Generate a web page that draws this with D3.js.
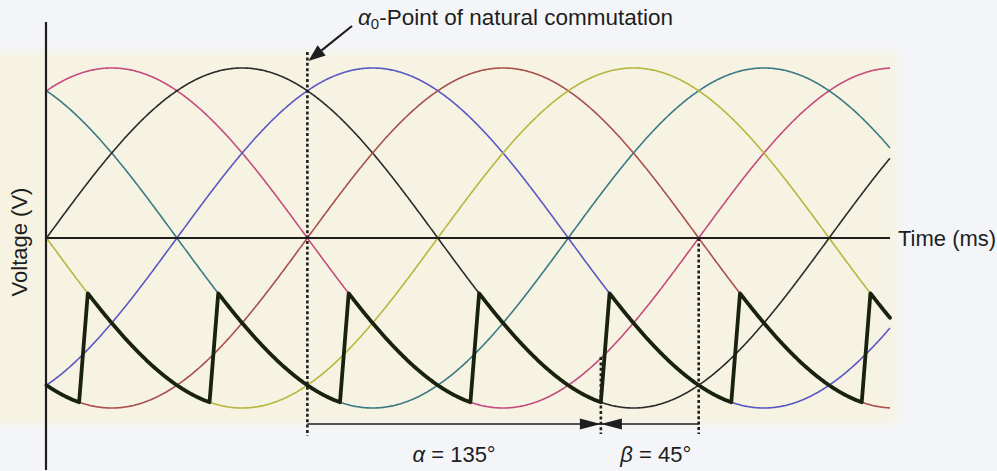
<!DOCTYPE html>
<html>
<head>
<meta charset="utf-8">
<script src="https://cdn.jsdelivr.net/npm/d3@7/dist/d3.min.js"></script>
<style>
  html, body { margin: 0; padding: 0; background: #f3f5f8; }
  svg { display: block; font-family: "Liberation Sans", Arial, sans-serif; }
</style>
</head>
<body>
<svg id="chart" width="997" height="471"></svg>
<script>
// Six phase voltages of a 6-pulse bridge, normalised amplitude, phase lead in degrees
const phaseShiftDeg = [60, 120, 0, -60, -120, 180];
const amplitude = 1;

// Angle axis (electrical degrees shown along the time axis)
const angleDomain = [0, 388];
const voltageDomain = [-1, 1];

// Firing / commutation angles (degrees)
const alpha0Deg = 120;     // natural commutation point
const alphaDeg = 135;      // firing angle
const betaDeg = 45;        // advance angle, alpha + beta = 180
const overlapDeg = 4;      // commutation overlap of the output voltage
const pulseSpacingDeg = 60;

// Text
const axisLabels = { y: "Voltage (V)", x: "Time (ms)" };
const alpha0Label = ["α", "0", "-Point of natural commutation"];

// Styles
const phaseColors = ["#c64b7e", "#3b7a84", "#2b2b2b", "#5a58c4", "#a8504c", "#b8b63e"];
const ink = "#1e1e1e";

const svg = d3.select("#chart");

const x = d3.scaleLinear().domain(angleDomain).range([46.5, 890]);
const y = d3.scaleLinear().domain(voltageDomain).range([408, 68]);
const rad = d => d * Math.PI / 180;

// soft cream plotting paper
const defs = svg.append("defs");
defs.append("filter").attr("id", "soft")
  .attr("x", "-10%").attr("y", "-10%").attr("width", "120%").attr("height", "120%")
  .append("feGaussianBlur").attr("stdDeviation", 5);
svg.append("rect")
  .attr("x", -20).attr("y", 52).attr("width", 917).attr("height", 372)
  .attr("fill", "#f6f3e2").attr("filter", "url(#soft)");

const line = d3.line().x(d => x(d.t)).y(d => y(d.v));
const step = 0.5;
const thetas = d3.range(angleDomain[0], angleDomain[1] + step / 2, step);

// thin phase voltages
const phases = phaseShiftDeg.map((s, i) => ({
  color: phaseColors[i],
  pts: thetas.map(t => ({ t, v: amplitude * Math.sin(rad(t + s)) }))
}));
svg.append("g").selectAll("path").data(phases).join("path")
  .attr("d", d => line(d.pts))
  .attr("fill", "none")
  .attr("stroke", d => d.color)
  .attr("stroke-width", 1.6)
  .attr("stroke-linejoin", "round");

// output (rail) voltage: each thyristor fired alpha after its natural commutation point
function phaseLag(t) {
  const k = Math.floor((t - alpha0Deg - alphaDeg) / pulseSpacingDeg);
  return { lag: alpha0Deg - pulseSpacingDeg + pulseSpacingDeg * k,
           fire: alpha0Deg + alphaDeg + pulseSpacingDeg * k };
}
function railVoltage(t) {
  const { lag, fire } = phaseLag(t);
  const vNew = tt => amplitude * Math.sin(rad(tt - lag));
  if (t < fire + overlapDeg) {
    const vOld = amplitude * Math.sin(rad(fire - lag + pulseSpacingDeg));
    const vEnd = vNew(fire + overlapDeg);
    return vOld + (vEnd - vOld) * (t - fire) / overlapDeg;
  }
  return vNew(t);
}
const breaks = [];
for (let f = alpha0Deg + alphaDeg - 10 * pulseSpacingDeg; f <= angleDomain[1]; f += pulseSpacingDeg) {
  if (f >= angleDomain[0]) breaks.push(f, f + overlapDeg);
}
const railT = Array.from(new Set(thetas.concat(breaks).filter(t => t <= angleDomain[1])))
  .sort((a, b) => a - b);
svg.append("path")
  .attr("d", line(railT.map(t => ({ t, v: railVoltage(t) }))))
  .attr("fill", "none")
  .attr("stroke", "#18220f")
  .attr("stroke-width", 3.8)
  .attr("stroke-linejoin", "round")
  .attr("stroke-linecap", "round");

// axes
svg.append("line")
  .attr("x1", x(angleDomain[0]) - 0.5).attr("x2", x(angleDomain[0]) - 0.5)
  .attr("y1", 22).attr("y2", 470)
  .attr("stroke", ink).attr("stroke-width", 2.2);
svg.append("line")
  .attr("x1", x(angleDomain[0]) - 0.5).attr("x2", x(angleDomain[1]))
  .attr("y1", y(0)).attr("y2", y(0))
  .attr("stroke", ink).attr("stroke-width", 1.8);

svg.append("text")
  .attr("transform", `translate(27,${y(0) + 4}) rotate(-90)`)
  .attr("text-anchor", "middle")
  .attr("font-size", 22).attr("fill", ink)
  .text(axisLabels.y);
svg.append("text")
  .attr("x", x(angleDomain[1]) + 8).attr("y", y(0) + 8)
  .attr("font-size", 22).attr("fill", ink)
  .text(axisLabels.x);

// dotted markers
const dotted = (xv, y1, y2) => svg.append("line")
  .attr("x1", xv).attr("x2", xv).attr("y1", y1).attr("y2", y2)
  .attr("stroke", ink).attr("stroke-width", 2.6).attr("stroke-dasharray", "3,2.4");
const xA0 = x(alpha0Deg), xFire = x(alpha0Deg + alphaDeg), xEnd = x(alpha0Deg + alphaDeg + betaDeg);
dotted(xA0, 52, 436);
dotted(xFire, 357, 434);
dotted(xEnd, y(0), 434);

// alpha / beta dimension line
const dimY = 424;
svg.append("line").attr("x1", xA0).attr("x2", xEnd).attr("y1", dimY).attr("y2", dimY)
  .attr("stroke", ink).attr("stroke-width", 1.6);
const headL = 21, headH = 5.5;
svg.append("path")
  .attr("d", `M${xFire},${dimY} L${xFire - headL},${dimY - headH} L${xFire - headL},${dimY + headH} Z`)
  .attr("fill", ink);
svg.append("path")
  .attr("d", `M${xFire},${dimY} L${xFire + headL},${dimY - headH} L${xFire + headL},${dimY + headH} Z`)
  .attr("fill", ink);

const angleLabel = (cx, sym, val) => {
  const t = svg.append("text").attr("x", cx).attr("y", 462)
    .attr("text-anchor", "middle").attr("font-size", 22).attr("fill", ink);
  t.append("tspan").attr("font-style", "italic").text(sym);
  t.append("tspan").text(` = ${val}°`);
};
angleLabel((xA0 + xFire) / 2, "α", alphaDeg);
angleLabel((xFire + xEnd) / 2 + 6, "β", betaDeg);

// natural commutation pointer with a filled head
const tip = [xA0 + 1, 61], tail = [352, 26];
const ang = Math.atan2(tip[1] - tail[1], tip[0] - tail[0]);
const hl = 17, hw = 6.5;
const base = [tip[0] - hl * Math.cos(ang), tip[1] - hl * Math.sin(ang)];
svg.append("line")
  .attr("x1", tail[0]).attr("y1", tail[1]).attr("x2", base[0]).attr("y2", base[1])
  .attr("stroke", ink).attr("stroke-width", 2.2);
svg.append("path")
  .attr("d", `M${tip[0]},${tip[1]}
    L${base[0] + hw * Math.sin(ang)},${base[1] - hw * Math.cos(ang)}
    L${base[0] - hw * Math.sin(ang)},${base[1] + hw * Math.cos(ang)} Z`)
  .attr("fill", ink);

const t0 = svg.append("text").attr("x", 358).attr("y", 25)
  .attr("font-size", 22.5).attr("fill", ink);
t0.append("tspan").attr("font-style", "italic").text(alpha0Label[0]);
t0.append("tspan").attr("font-size", 15).attr("dy", 4).text(alpha0Label[1]);
t0.append("tspan").attr("dy", -4).text(alpha0Label[2]);
</script>
</body>
</html>
